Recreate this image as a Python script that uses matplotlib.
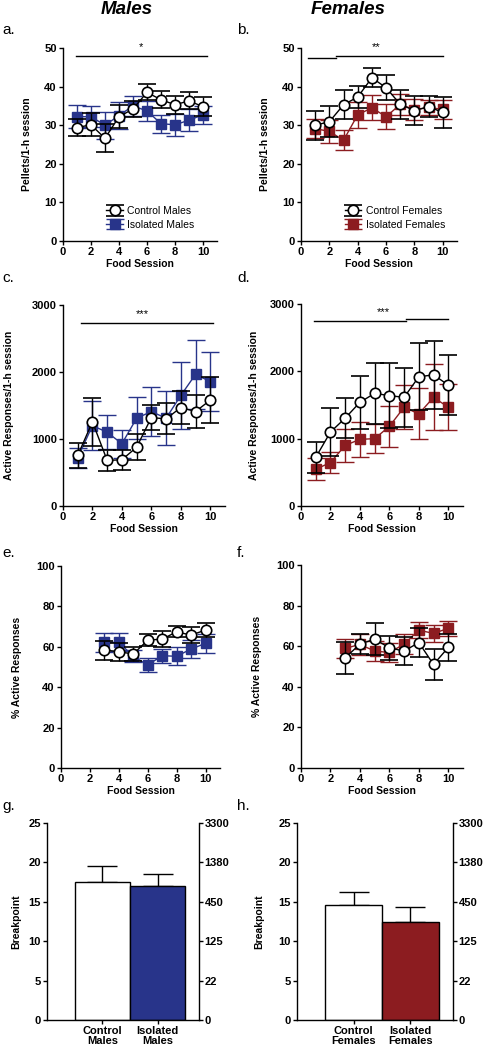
import numpy as np
import matplotlib
matplotlib.use("Agg")
import matplotlib.pyplot as plt

plt.rcParams["font.family"] = ["Liberation Sans", "DejaVu Sans"]

NAVY = "#28348a"
DRED = "#8c1c20"

sessions = np.arange(1, 11)
sessions_pct = np.arange(3, 11)

# a. pellets, males
pel_ctl_m = [29.4, 30.1, 26.6, 32.2, 34.2, 38.5, 36.6, 35.3, 36.3, 34.8]
pel_ctl_m_se = [2.3, 3.0, 3.6, 3.0, 2.0, 2.1, 2.2, 2.3, 2.2, 2.4]
pel_iso_m = [32.2, 32.2, 30.0, 32.5, 35.0, 33.7, 30.4, 30.1, 31.3, 32.7]
pel_iso_m_se = [3.0, 2.7, 3.5, 3.5, 2.6, 2.5, 2.3, 2.8, 2.8, 2.3]
# b. pellets, females
pel_ctl_f = [30.0, 30.9, 35.3, 37.3, 42.3, 39.7, 35.4, 33.8, 34.8, 33.3]
pel_ctl_f_se = [3.8, 4.0, 3.7, 2.8, 2.5, 3.2, 3.8, 3.8, 2.8, 4.1]
pel_iso_f = [29.1, 28.4, 26.1, 32.7, 34.5, 32.2, 35.4, 34.0, 34.6, 34.1]
pel_iso_f_se = [2.5, 3.0, 2.6, 3.3, 3.2, 3.3, 2.7, 2.7, 2.0, 2.5]
# c. active responses, males
act_ctl_m = [755, 1257, 680, 690, 878, 1320, 1300, 1470, 1410, 1580]
act_ctl_m_se = [190, 360, 160, 150, 190, 180, 230, 250, 245, 340]
act_iso_m = [720, 1200, 1100, 930, 1310, 1410, 1310, 1650, 1965, 1856]
act_iso_m_se = [150, 360, 255, 210, 310, 370, 400, 500, 510, 440]
# d. active responses, females
act_ctl_f = [722, 1098, 1305, 1540, 1673, 1639, 1614, 1919, 1948, 1796]
act_ctl_f_se = [230, 360, 300, 390, 455, 480, 440, 500, 500, 450]
act_iso_f = [545, 646, 900, 990, 1000, 1182, 1467, 1368, 1614, 1467]
act_iso_f_se = [165, 150, 250, 260, 220, 300, 330, 380, 490, 340]
# e. % active, males
pct_ctl_m = [58.4, 57.6, 56.4, 63.3, 63.8, 67.4, 65.8, 68.3]
pct_ctl_m_se = [4.7, 4.5, 3.5, 3.0, 4.0, 2.7, 4.0, 3.6]
pct_iso_m = [62.2, 62.2, 55.3, 51.0, 55.6, 55.3, 58.9, 61.7]
pct_iso_m_se = [4.6, 4.5, 3.0, 3.7, 3.5, 4.5, 4.5, 4.6]
# f. % active, females
pct_ctl_f = [54.3, 61.0, 63.5, 59.2, 57.6, 61.8, 51.0, 59.4]
pct_ctl_f_se = [8.0, 5.0, 8.0, 6.0, 7.0, 7.0, 7.5, 6.5]
pct_iso_f = [58.9, 60.9, 57.6, 56.9, 61.0, 67.9, 66.3, 68.8]
pct_iso_f_se = [4.5, 5.0, 5.0, 4.5, 4.8, 4.0, 4.0, 3.7]
# g/h. breakpoint
bp_labels_m = ["Control\nMales", "Isolated\nMales"]
bp_m = [17.5, 17.0]
bp_m_se = [2.1, 1.55]
bp_labels_f = ["Control\nFemales", "Isolated\nFemales"]
bp_f = [14.6, 12.5]
bp_f_se = [1.6, 1.9]
ratio_ticks = ["0", "22", "125", "450", "1380", "3300"]

W, H = 483, 1050
fig = plt.figure(figsize=(W / 100, H / 100), dpi=100)


def px_axes(x0, x1, ytop, ybot):
    return fig.add_axes([x0 / W, 1 - ybot / H, (x1 - x0) / W, (ybot - ytop) / H])


def style(ax, fs=8):
    for s in ("top", "right"):
        ax.spines[s].set_visible(False)
    for s in ("left", "bottom"):
        ax.spines[s].set_linewidth(1.0)
    ax.tick_params(length=3, width=1, labelsize=fs, pad=1.5)
    for t in ax.get_xticklabels() + ax.get_yticklabels():
        t.set_fontweight("bold")


def line_panel(ax, x, ctl, ctl_se, iso, iso_se, col, ymax, yticks, ylabel, labx,
               leg=None):
    hi = ax.errorbar(x, iso, yerr=iso_se, fmt="-s", color=col, mfc=col, mec=col,
                     ms=7, lw=1, elinewidth=1, capsize=6.5, capthick=1, zorder=2,
                     clip_on=False)
    hc = ax.errorbar(x, ctl, yerr=ctl_se, fmt="-o", color="k", mfc="white",
                     mec="k", mew=1.2, ms=7.5, lw=1, elinewidth=1, capsize=6.5,
                     capthick=1, zorder=3, clip_on=False)
    ax.set_xlim(0, 11)
    ax.set_ylim(0, ymax)
    ax.set_xticks([0, 2, 4, 6, 8, 10])
    ax.set_yticks(yticks)
    ax.set_xlabel("Food Session", fontsize=7.5, fontweight="bold", labelpad=1)
    ax.set_ylabel(ylabel, fontsize=7.5, fontweight="bold")
    ax.yaxis.set_label_coords(labx, 0.5)
    style(ax)
    if leg:
        ax.legend([hc, hi], leg, loc="lower left", bbox_to_anchor=(0.22, 0.01),
                  frameon=False, fontsize=7.5, handlelength=1.6,
                  handletextpad=0.4, labelspacing=0.35)


def bar_panel(ax, labels, vals, se, col, labx):
    ax.bar([0, 1], vals, width=1.0, color=["white", col], edgecolor="k", lw=1,
           zorder=2)
    ax.errorbar([0, 1], vals, yerr=[[0, 0], se], fmt="none", ecolor="k",
                elinewidth=1, capsize=11, capthick=1, zorder=1)
    ax.set_xlim(-1.0, 1.75)
    ax.set_ylim(0, 25)
    ax.set_yticks([0, 5, 10, 15, 20, 25])
    ax.set_xticks([0, 1])
    ax.set_xticklabels(labels)
    ax.set_ylabel("Breakpoint", fontsize=7.5, fontweight="bold")
    ax.yaxis.set_label_coords(labx, 0.5)
    style(ax)
    for t in ax.get_xticklabels():
        t.set_linespacing(1.0)
    ax2 = ax.twinx()
    ax2.set_ylim(0, 25)
    ax2.set_yticks([0, 5, 10, 15, 20, 25])
    ax2.set_yticklabels(ratio_ticks)
    for s in ("top", "left", "bottom"):
        ax2.spines[s].set_visible(False)
    ax2.spines["right"].set_linewidth(1.0)
    ax2.tick_params(length=3, width=1, labelsize=8, pad=1)
    for t in ax2.get_yticklabels():
        t.set_fontweight("bold")


def sig(ax, segs, stars, sx, sy):
    for x0, x1, y in segs:
        ax.plot([x0, x1], [y, y], color="k", lw=1, clip_on=False, zorder=1)
    ax.text(sx, sy, stars, ha="center", va="center", fontsize=8, clip_on=False)


# a
ax = px_axes(63, 217, 48, 241)
line_panel(ax, sessions, pel_ctl_m, pel_ctl_m_se, pel_iso_m, pel_iso_m_se, NAVY,
           50, [0, 10, 20, 30, 40, 50], "Pellets/1-h session", -0.2,
           leg=["Control Males", "Isolated Males"])
sig(ax, [(0.9, 10.3, 47.8)], "*", 5.6, 50.3)
# b
ax = px_axes(301, 457, 48, 241)
line_panel(ax, sessions, pel_ctl_f, pel_ctl_f_se, pel_iso_f, pel_iso_f_se, DRED,
           50, [0, 10, 20, 30, 40, 50], "Pellets/1-h session", -0.2,
           leg=["Control Females", "Isolated Females"])
sig(ax, [(0.5, 2.5, 47.4), (2.5, 10.0, 48.0)], "**", 5.3, 50.3)
# c
ax = px_axes(63, 225, 305, 506)
line_panel(ax, sessions, act_ctl_m, act_ctl_m_se, act_iso_m, act_iso_m_se, NAVY,
           3000, [0, 1000, 2000, 3000], "Active Responses/1-h session", -0.3)
sig(ax, [(1.2, 10.2, 2735)], "***", 5.4, 2860)
# d
ax = px_axes(301, 463, 304, 506)
line_panel(ax, sessions, act_ctl_f, act_ctl_f_se, act_iso_f, act_iso_f_se, DRED,
           3000, [0, 1000, 2000, 3000], "Active Responses/1-h session", -0.26)
sig(ax, [(0.85, 7.1, 2745), (7.1, 9.95, 2770)], "***", 5.6, 2880)
# e
ax = px_axes(61, 220, 566, 768)
line_panel(ax, sessions_pct, pct_ctl_m, pct_ctl_m_se, pct_iso_m, pct_iso_m_se,
           NAVY, 100, [0, 20, 40, 60, 80, 100], "% Active Responses", -0.245)
# f
ax = px_axes(301, 463, 565, 768)
line_panel(ax, sessions_pct, pct_ctl_f, pct_ctl_f_se, pct_iso_f, pct_iso_f_se,
           DRED, 100, [0, 20, 40, 60, 80, 100], "% Active Responses", -0.24)
# g
ax = px_axes(47, 199, 823, 1020)
bar_panel(ax, bp_labels_m, bp_m, bp_m_se, NAVY, -0.17)
# h
ax = px_axes(297, 453, 823, 1020)
bar_panel(ax, bp_labels_f, bp_f, bp_f_se, DRED, -0.21)

# titles and panel letters
fig.text(127 / W, 1 - 10 / H, "Males", ha="center", va="center", fontsize=13.5,
         fontweight="bold", fontstyle="italic")
fig.text(348 / W, 1 - 10 / H, "Females", ha="center", va="center", fontsize=13.5,
         fontweight="bold", fontstyle="italic")
for lab, x, y in [("a.", 2, 30), ("b.", 237, 30), ("c.", 2, 278), ("d.", 237, 278),
                  ("e.", 2, 553), ("f.", 237, 553), ("g.", 2, 806), ("h.", 237, 806)]:
    fig.text(x / W, 1 - y / H, lab, ha="left", va="center", fontsize=11)

fig.savefig("out.png", dpi=100)
